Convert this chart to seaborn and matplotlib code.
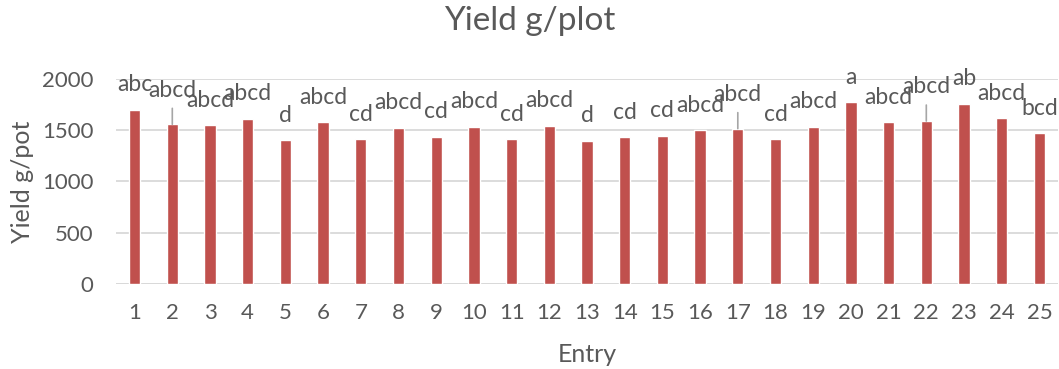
import matplotlib
matplotlib.use("Agg")
import matplotlib.pyplot as plt
import pandas as pd
import seaborn as sns

# data
entries = list(range(1, 26))
yields = [1700, 1558, 1551, 1613, 1402, 1577, 1412, 1526, 1438, 1535,
          1412, 1545, 1399, 1431, 1448, 1500, 1516, 1412, 1535, 1775,
          1577, 1590, 1759, 1616, 1473]
letters = ["abc", "abcd", "abcd", "abcd", "d", "abcd", "cd", "abcd", "cd", "abcd",
           "cd", "abcd", "d", "cd", "cd", "abcd", "abcd", "cd", "abcd", "a",
           "abcd", "abcd", "ab", "abcd", "bcd"]
# labels that Excel pushed up and joined with a leader line
leader = [2, 17, 22]

sns.set_style("white")
plt.rcParams['font.family'] = ['Lato', 'DejaVu Sans']

txt = '#595959'
barColor = '#C0504D'
gridColor = '#D9D9D9'

df = pd.DataFrame({'Entry': [str(e) for e in entries], 'Yield': yields})

fig = plt.figure(figsize=(10.59, 3.69), dpi=100)
ax = fig.add_axes([0.1093, 0.2304, 0.8900, 0.5555])

sns.barplot(data=df, x='Entry', y='Yield', color=barColor, saturation=1,
            width=0.3, ax=ax, zorder=3)

ax.set_ylim(0, 2000)
ax.set_xlim(-0.5, len(entries) - 0.5)
ax.set_yticks([0, 500, 1000, 1500, 2000])
ax.yaxis.grid(True, color=gridColor, linewidth=1.3, zorder=0)
for s in ax.spines.values():
    s.set_visible(False)
ax.axhline(0, color=gridColor, linewidth=1.3, zorder=1)
ax.tick_params(axis='both', length=0, labelsize=16, colors=txt)
ax.tick_params(axis='x', pad=14)
ax.tick_params(axis='y', pad=16)

ax.set_xlabel('Entry', fontsize=18, color=txt, labelpad=14)
ax.set_ylabel('Yield g/pot', fontsize=18, color=txt, labelpad=6)
fig.suptitle('Yield g/plot', fontsize=24, color=txt, y=0.985)

for i, (v, lab) in enumerate(zip(yields, letters)):
    if entries[i] in leader:
        ax.annotate(lab, (i, v), xytext=(0, 24.5), textcoords='offset points',
                    ha='center', va='center', fontsize=16.5, color=txt)
        ax.annotate('', (i, v), xytext=(0, 11.5), textcoords='offset points',
                    arrowprops=dict(arrowstyle='-', color='#A6A6A6', lw=1.2,
                                    shrinkA=0, shrinkB=0))
    else:
        ax.annotate(lab, (i, v), xytext=(0, 18), textcoords='offset points',
                    ha='center', va='center', fontsize=16.5, color=txt)

fig.savefig('out.png', dpi=100)
